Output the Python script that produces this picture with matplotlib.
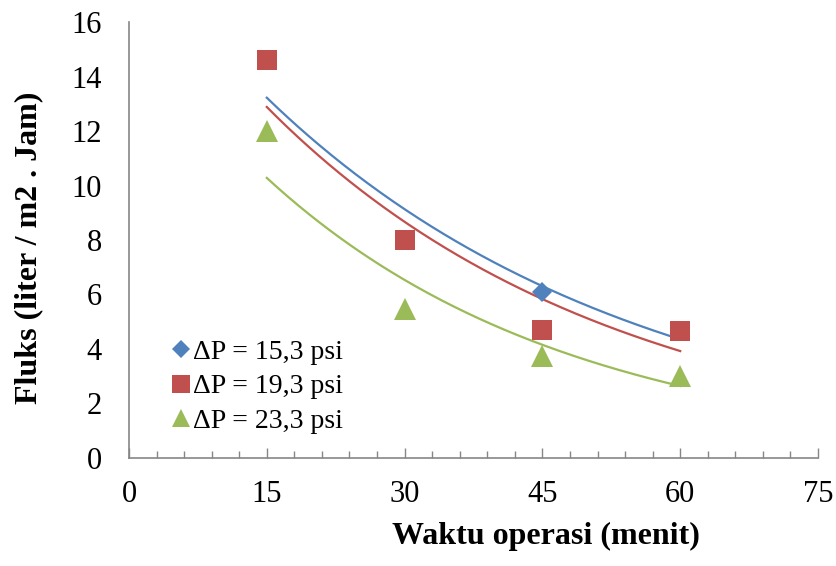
import numpy as np
import matplotlib
matplotlib.use("Agg")
import matplotlib.pyplot as plt
from matplotlib.ticker import MultipleLocator

plt.rcParams['font.family'] = ['Liberation Serif', 'DejaVu Serif']

# Operating time (minutes) and flux for each pressure difference
waktu = [15, 30, 45, 60]
fluks_15_3 = [14.6, 8.0, 6.1, 4.65]
fluks_19_3 = [14.6, 8.0, 4.7, 4.65]
fluks_23_3 = [12.0, 5.45, 3.75, 3.0]

labels = ['ΔP = 15,3 psi', 'ΔP = 19,3 psi', 'ΔP = 23,3 psi']
colors = ['#4F81BD', '#C0504D', '#9BBB59']
markers = ['D', 's', '^']
msizes = [10.5, 14.5, 15.5]

fig = plt.figure(figsize=(8.36, 5.66), dpi=100)
ax = fig.add_axes([0.1543, 0.191, 0.8242, 0.770])

series = [fluks_15_3, fluks_19_3, fluks_23_3]
x = np.array(waktu, dtype=float)
handles = []
for y, c, m, ms, lab in zip(series, colors, markers, msizes, labels):
    h, = ax.plot(x, y, linestyle='none', marker=m, markersize=ms,
                 color=c, markeredgewidth=0, label=lab, zorder=3)
    handles.append(h)
    # exponential trendline fitted on the points
    b, a = np.polyfit(x, np.log(y), 1)
    xs = np.linspace(x.min(), x.max(), 200)
    ax.plot(xs, np.exp(a + b * xs), color=c, linewidth=1.6, zorder=2)

ax.set_xlim(0, 75)
ax.set_ylim(0, 16)
ax.xaxis.set_major_locator(MultipleLocator(15))
ax.xaxis.set_minor_locator(MultipleLocator(3))
ax.yaxis.set_major_locator(MultipleLocator(2))

for s in ['top', 'right']:
    ax.spines[s].set_visible(False)
for s in ['left', 'bottom']:
    ax.spines[s].set_color('#868686')
    ax.spines[s].set_linewidth(1.2)

ax.tick_params(axis='x', which='major', direction='in', length=7, width=1,
               color='#868686', labelsize=22, pad=16)
ax.tick_params(axis='x', which='minor', direction='in', length=5, width=1,
               color='#868686')
ax.tick_params(axis='y', which='major', length=0, labelsize=22, pad=19.5)

ax.set_xlabel('Waktu operasi (menit)', fontsize=23, fontweight='bold')
ax.set_ylabel('Fluks (liter / m2 . Jam)', fontsize=23, fontweight='bold')
ax.xaxis.set_label_coords(0.6045, -0.147)
ax.yaxis.set_label_coords(-0.125, 0.4817)

leg = ax.legend(handles=handles, loc='lower left',
                bbox_to_anchor=(0.061, 0.055), frameon=False, fontsize=20,
                handlelength=0.75, handletextpad=0.05, labelspacing=0.33,
                borderaxespad=0, borderpad=0, markerscale=0.87)

fig.savefig('out.png', dpi=100)
